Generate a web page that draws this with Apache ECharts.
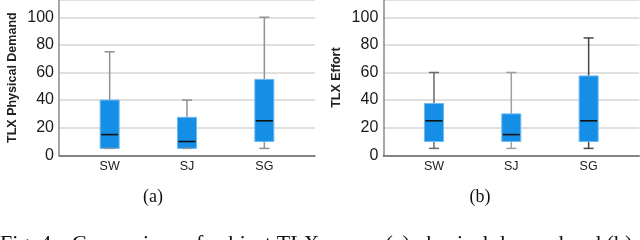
<!DOCTYPE html>
<html>
<head>
<meta charset="utf-8">
<script src="https://cdn.jsdelivr.net/npm/echarts@6/dist/echarts.min.js"></script>
<style>
html,body{margin:0;padding:0;background:#fff;}
#chart{width:640px;height:240px;}
</style>
</head>
<body>
<div id="chart"></div>
<script>
// ---- data ----
const categories = ['SW', 'SJ', 'SG'];
const yTicks = [0, 20, 40, 60, 80, 100];

const physMin = [5, 5, 5];
const physQ1 = [5, 5, 10];
const physMedian = [15, 10, 25];
const physQ3 = [40, 27.5, 55];
const physMax = [75, 40, 100];

const effortMin = [5, 5, 5];
const effortQ1 = [10, 10, 10];
const effortMedian = [25, 15, 25];
const effortQ3 = [37.5, 30, 57.5];
const effortMax = [60, 60, 85];

const panelNames = ['TLX Physical Demand', 'TLX Effort'];
const panelLabels = ['(a)', '(b)'];
const captionHead = 'Fig. 4.';
const captionText = 'Comparison of subject TLX scores (a) physical demand and (b) effort';

// ---- build ----
function build(mins, q1s, meds, q3s, maxs) {
  return categories.map((c, i) => [i + 1, mins[i], q1s[i], meds[i], q3s[i], maxs[i]]);
}
const datasets = [
  build(physMin, physQ1, physMedian, physQ3, physMax),
  build(effortMin, effortQ1, effortMedian, effortQ3, effortMax)
];
const whiskerColors = [
  ['#8d9299', '#8d9299', '#8d9299'],
  ['#6a6a6a', '#9aa0a8', '#454545']
];

const chart = echarts.init(document.getElementById('chart'), null, {renderer: 'canvas'});

const grids = [
  {left: 59, width: 256, top: -2, height: 157.3},
  {left: 383.3, width: 256, top: -2, height: 157.3}
];

function makeRender(panel) {
  return function (params, api) {
    const x = api.value(0);
    const pMin = api.coord([x, api.value(1)]);
    const pQ1 = api.coord([x, api.value(2)]);
    const pMed = api.coord([x, api.value(3)]);
    const pQ3 = api.coord([x, api.value(4)]);
    const pMax = api.coord([x, api.value(5)]);
    const boxW = api.size([0.246, 0])[0];
    const capW = api.size([0.13, 0])[0];
    const cx = pMed[0];
    const wc = whiskerColors[panel][params.dataIndex];
    const wStyle = {stroke: wc, lineWidth: 1.5};
    return {
      type: 'group',
      children: [
        {type: 'line', shape: {x1: cx, y1: pMax[1], x2: cx, y2: pQ3[1]}, style: wStyle},
        {type: 'line', shape: {x1: cx, y1: pQ1[1], x2: cx, y2: pMin[1]}, style: wStyle},
        {type: 'line', shape: {x1: cx - capW / 2, y1: pMax[1], x2: cx + capW / 2, y2: pMax[1]}, style: wStyle},
        {type: 'rect', shape: {x: cx - boxW / 2, y: pQ3[1], width: boxW, height: pQ1[1] - pQ3[1]},
          style: {fill: '#158ee6', stroke: '#6db9f3', lineWidth: 1}},
        {type: 'line', shape: {x1: cx - capW / 2, y1: pMin[1], x2: cx + capW / 2, y2: pMin[1]}, style: {stroke: wc, lineWidth: 1.5}},
        {type: 'line', shape: {x1: cx - boxW / 2 + 1, y1: pMed[1], x2: cx + boxW / 2 - 1, y2: pMed[1]}, style: {stroke: '#111', lineWidth: 1.6}}
      ]
    };
  };
}

const xAxes = [0, 1].map(i => ({
  type: 'value', gridIndex: i, min: 0.345, max: 3.655,
  axisLine: {show: true, lineStyle: {color: '#666', width: 1.5}},
  axisTick: {show: false},
  splitLine: {show: false},
  axisLabel: {
    customValues: categories.map((c, k) => k + 1),
    formatter: v => categories[Math.round(v) - 1] || '',
    color: '#222', fontSize: 12.5, fontFamily: 'Liberation Sans, Arial, sans-serif', margin: 5
  }
}));

const yAxes = [0, 1].map(i => ({
  type: 'value', gridIndex: i, min: 0, max: 112.5, interval: 20,
  name: panelNames[i], nameLocation: 'middle', nameGap: 40, nameRotate: 90,
  nameTextStyle: {fontFamily: 'Liberation Sans, Arial, sans-serif', fontWeight: 'bold', fontSize: 12.5, color: '#222'},
  axisLine: {show: true, lineStyle: {color: '#8a8a8a', width: 1.5}},
  axisTick: {show: false},
  splitLine: {show: true, lineStyle: {color: '#d6d6d6', width: 1.5}},
  axisLabel: {
    showMaxLabel: false,
    formatter: v => (yTicks.indexOf(v) >= 0 ? String(v) : ''),
    color: '#1a1a1a', fontSize: 16, fontFamily: 'Liberation Sans, Arial, sans-serif', margin: 5
  }
}));

const series = [0, 1].map(i => ({
  type: 'custom', xAxisIndex: i, yAxisIndex: i,
  renderItem: makeRender(i),
  encode: {x: 0, y: [1, 2, 3, 4, 5]},
  data: datasets[i],
  z: 5
}));

const serif = '"Liberation Serif", "Times New Roman", serif';
chart.setOption({
  animation: false,
  grid: grids,
  xAxis: xAxes,
  yAxis: yAxes,
  series: series,
  graphic: [
    {type: 'text', x: 153, y: 197, style: {text: panelLabels[0], font: '18px ' + serif, fill: '#111', textAlign: 'center', textVerticalAlign: 'middle'}},
    {type: 'text', x: 480, y: 197, style: {text: panelLabels[1], font: '18px ' + serif, fill: '#111', textAlign: 'center', textVerticalAlign: 'middle'}},
    {type: 'text', x: 0, y: 233, style: {text: captionHead, font: '22px ' + serif, fill: '#111', textAlign: 'left', textVerticalAlign: 'top'}},
    {type: 'text', x: 72, y: 233, style: {text: captionText, font: '22px ' + serif, fill: '#111', textAlign: 'left', textVerticalAlign: 'top'}}
  ]
});
</script>
</body>
</html>
